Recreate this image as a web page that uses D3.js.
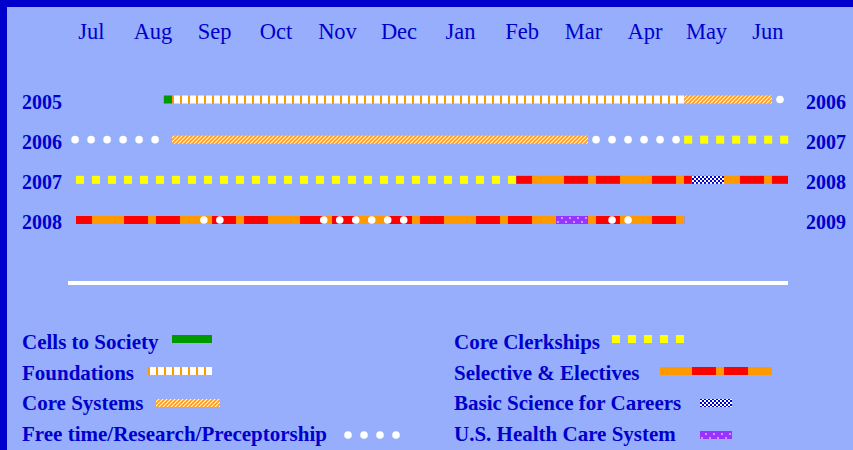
<!DOCTYPE html>
<html>
<head>
<meta charset="utf-8">
<script src="https://cdn.jsdelivr.net/npm/d3@7"></script>
<style>
  body { margin: 0; background: #97aefc; }
  svg text { font-family: "Liberation Serif", "Times New Roman", serif; fill: #0000cc; }
</style>
</head>
<body>
<div id="chart"></div>
<script>
// academic year, months from July
var months = ["Jul", "Aug", "Sep", "Oct", "Nov", "Dec", "Jan", "Feb", "Mar", "Apr", "May", "Jun"];
var startYears = ["2005", "2006", "2007", "2008"];
var endYears = ["2006", "2007", "2008", "2009"];

// segments in months after July 1 (0..12)
var cellsToSociety = [{ row: "2005", from: 1.48, to: 1.62 }];
var foundations = [{ row: "2005", from: 1.62, to: 10.25 }];
var coreSystems = [
    { row: "2005", from: 10.25, to: 11.73 },
    { row: "2006", from: 1.62, to: 8.63 }
];
var coreClerkships = [
    { row: "2006", from: 10.25, to: 12 },
    { row: "2007", from: 0, to: 7.42 }
];
var selectives = [
    { row: "2007", from: 7.42, to: 10.38 },
    { row: "2007", from: 10.92, to: 12 },
    { row: "2008", from: 0, to: 8.09 },
    { row: "2008", from: 8.63, to: 10.25 }
];
var basicScience = [{ row: "2007", from: 10.38, to: 10.92 }];
var healthCare = [{ row: "2008", from: 8.09, to: 8.63 }];
var freeTime = [
    { row: "2005", from: 11.73, to: 12 },
    { row: "2006", from: -0.15, to: 1.47 },
    { row: "2006", from: 8.63, to: 10.25 },
    { row: "2008", from: 2.02, to: 2.56 },
    { row: "2008", from: 4.04, to: 5.66 },
    { row: "2008", from: 8.90, to: 9.44 }
];

var legendLeft = ["Cells to Society", "Foundations", "Core Systems", "Free time/Research/Preceptorship"];
var legendRight = ["Core Clerkships", "Selective & Electives", "Basic Science for Careers", "U.S. Health Care System"];

var width = 853, height = 450;

var svg = d3.select("#chart").append("svg")
    .attr("width", width)
    .attr("height", height);

// frame
svg.append("rect").attr("width", width).attr("height", height).attr("fill", "#97aefc");
svg.append("rect").attr("width", width).attr("height", 7).attr("fill", "#0000cc");
svg.append("rect").attr("width", 7).attr("height", height).attr("fill", "#0000cc");

// patterns
var defs = svg.append("defs");

var pf = defs.append("pattern").attr("id", "pFound")
    .attr("patternUnits", "userSpaceOnUse").attr("x", 4).attr("y", 0)
    .attr("width", 8).attr("height", 450);
pf.append("rect").attr("width", 8).attr("height", 450).attr("fill", "#fff");
pf.append("rect").attr("width", 2).attr("height", 450).attr("fill", "#ff9900");

var pc = defs.append("pattern").attr("id", "pCore")
    .attr("patternUnits", "userSpaceOnUse")
    .attr("width", 4).attr("height", 4);
pc.append("rect").attr("width", 4).attr("height", 4).attr("fill", "#fff");
pc.append("path").attr("d", "M-1,1L1,-1M0,4L4,0M3,5L5,3")
    .attr("stroke", "#ff9d1a").attr("stroke-width", 1.9);

function selectivePattern(id, x0) {
    var p = defs.append("pattern").attr("id", id)
        .attr("patternUnits", "userSpaceOnUse").attr("x", x0).attr("y", 0)
        .attr("width", 88).attr("height", 450);
    p.append("rect").attr("width", 88).attr("height", 450).attr("fill", "#ff9900");
    p.append("rect").attr("x", 0).attr("width", 24).attr("height", 450).attr("fill", "#ff0000");
    p.append("rect").attr("x", 56).attr("width", 24).attr("height", 450).attr("fill", "#ff0000");
}
selectivePattern("pSel", 68);
selectivePattern("pSelLeg", 636);

var pb = defs.append("pattern").attr("id", "pBasic")
    .attr("patternUnits", "userSpaceOnUse")
    .attr("width", 4).attr("height", 4);
pb.append("rect").attr("width", 4).attr("height", 4).attr("fill", "#0000cc");
pb.append("rect").attr("width", 2).attr("height", 2).attr("fill", "#fff");
pb.append("rect").attr("x", 2).attr("y", 2).attr("width", 2).attr("height", 2).attr("fill", "#fff");

var ph = defs.append("pattern").attr("id", "pHealth")
    .attr("patternUnits", "userSpaceOnUse")
    .attr("width", 8).attr("height", 8);
ph.append("rect").attr("width", 8).attr("height", 8).attr("fill", "#9933ff");
ph.append("circle").attr("cx", 2).attr("cy", 2).attr("r", 0.9).attr("fill", "#e0c8ff");
ph.append("circle").attr("cx", 6).attr("cy", 6).attr("r", 0.9).attr("fill", "#e0c8ff");

// scales
var x = d3.scaleLinear().domain([0, 12]).range([76, 788]);
var y = d3.scalePoint().domain(startYears).range([99.5, 220]);
var monthX = d3.scalePoint().domain(months).range([91.5, 768]);
var barH = 8;

// month labels
svg.append("g").selectAll("text")
    .data(months)
    .enter().append("text")
    .attr("x", function (d) { return monthX(d); })
    .attr("y", 38.5)
    .attr("text-anchor", "middle")
    .style("font-size", "22.5px")
    .text(function (d) { return d; });

// year labels
svg.append("g").selectAll("text")
    .data(startYears)
    .enter().append("text")
    .attr("x", 22)
    .attr("y", function (d) { return y(d) + 9; })
    .style("font-size", "20px").style("font-weight", "bold")
    .text(function (d) { return d; });

svg.append("g").selectAll("text")
    .data(endYears)
    .enter().append("text")
    .attr("x", 806)
    .attr("y", function (d, i) { return y(startYears[i]) + 9; })
    .style("font-size", "20px").style("font-weight", "bold")
    .text(function (d) { return d; });

// solid / patterned bars
function bars(data, fill) {
    svg.append("g").selectAll("rect")
        .data(data)
        .enter().append("rect")
        .attr("x", function (d) { return x(d.from); })
        .attr("y", function (d) { return y(d.row) - barH / 2; })
        .attr("width", function (d) { return x(d.to) - x(d.from); })
        .attr("height", barH)
        .attr("fill", fill);
}
bars(cellsToSociety, "#009900");
bars(foundations, "url(#pFound)");
bars(coreSystems, "url(#pCore)");
bars(selectives, "url(#pSel)");
bars(basicScience, "url(#pBasic)");
bars(healthCare, "url(#pHealth)");

// square dashes every 16px
function squares(g, x0, x1, cy) {
    g.selectAll(null)
        .data(d3.range(x0, x1 - 0.5, 16))
        .enter().append("rect")
        .attr("x", function (d) { return d; })
        .attr("y", cy - 4)
        .attr("width", 8).attr("height", 8)
        .attr("fill", "#ffff00");
}
// white dots every 16px
function dots(g, x0, x1, cy) {
    g.selectAll(null)
        .data(d3.range(x0 + 8, x1, 16))
        .enter().append("circle")
        .attr("cx", function (d) { return d; })
        .attr("cy", cy)
        .attr("r", 3.8)
        .attr("fill", "#fff");
}

var gSq = svg.append("g");
coreClerkships.forEach(function (d) { squares(gSq, x(d.from), x(d.to), y(d.row)); });
var gDot = svg.append("g");
freeTime.forEach(function (d) { dots(gDot, x(d.from), x(d.to), y(d.row)); });

// divider
svg.append("rect")
    .attr("x", 68).attr("y", 281)
    .attr("width", 720).attr("height", 4)
    .attr("fill", "#fff");

// legend
var legendBase = 349.3, legendStep = 30.5, swatchTop = 335, swatchStep = 32;
var leftSwatch = [[172, 40, "#009900"], [148, 64, "url(#pFound)"], [156, 64, "url(#pCore)"], [340, 64, "dots"]];
var rightSwatch = [[612, 72, "squares"], [660, 112, "url(#pSelLeg)"], [700, 32, "url(#pBasic)"], [700, 32, "url(#pHealth)"]];

function legendColumn(names, sw, tx) {
    var g = svg.append("g");
    g.selectAll("text")
        .data(names)
        .enter().append("text")
        .attr("x", tx)
        .attr("y", function (d, i) { return legendBase + i * legendStep; })
        .style("font-size", "21px").style("font-weight", "bold")
        .text(function (d) { return d; });
    sw.forEach(function (s, i) {
        var top = swatchTop + i * swatchStep;
        if (s[2] == "dots") dots(g, s[0], s[0] + s[1], top + 4);
        else if (s[2] == "squares") squares(g, s[0], s[0] + s[1], top + 4);
        else g.append("rect").attr("x", s[0]).attr("y", top)
            .attr("width", s[1]).attr("height", 8).attr("fill", s[2]);
    });
}
legendColumn(legendLeft, leftSwatch, 22);
legendColumn(legendRight, rightSwatch, 454);
</script>
</body>
</html>
